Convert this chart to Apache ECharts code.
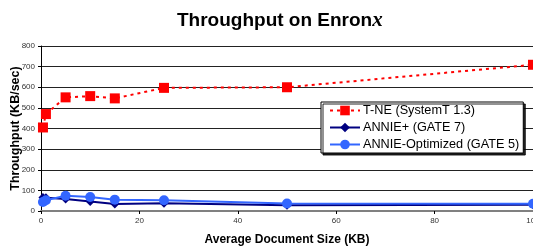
<!DOCTYPE html>
<html><head><meta charset="utf-8">
<script src="https://cdn.jsdelivr.net/npm/echarts@6/dist/echarts.min.js"></script>
<style>html,body{margin:0;padding:0;background:#fff}#c{width:533px;height:246px}</style>
</head><body><div id="c"></div>
<script>
const docSizes = [0.4, 1, 5, 10, 15, 25, 50, 100];
const tne = [405, 470, 551, 557, 546, 597, 600, 709];
const anniePlus = [66, 64, 58, 46, 34, 38, 28, 30];
const annieOpt = [44, 52, 74, 68, 55, 52, 36, 35];
const seriesNames = ['T-NE (SystemT 1.3)', 'ANNIE+ (GATE 7)', 'ANNIE-Optimized (GATE 5)'];
const xTicks = [0, 20, 40, 60, 80, 100];

const pairs = arr => docSizes.map((x, i) => [x, arr[i]]);
const chart = echarts.init(document.getElementById('c'));
chart.setOption({
  animation: false,
  title: {
    text: '{a|Throughput on Enron}{b|x}',
    left: 172, top: 5,
    textStyle: { rich: {
      a: { fontFamily: 'Liberation Sans, Arial', fontWeight: 'bold', fontSize: 19, color: '#000' },
      b: { fontFamily: 'Liberation Serif, Times New Roman', fontStyle: 'italic', fontWeight: 'bold', fontSize: 21, color: '#000' }
    }}
  },
  grid: { left: 41, right: 0, top: 46, bottom: 35, outerBoundsMode: 'none', containLabel: false },
  legend: {
    orient: 'vertical', left: 321, top: 102,
    backgroundColor: '#fff', borderColor: '#000', borderWidth: 1,
    shadowColor: 'rgba(0,0,0,0.85)', shadowOffsetX: 2, shadowOffsetY: 2, shadowBlur: 0,
    padding: [2, 4, 2, 8], itemGap: 4, itemWidth: 30, itemHeight: 12,
    textStyle: { fontFamily: 'Liberation Sans, Arial', fontSize: 12.7, color: '#000', padding: [0, 0, 0, -2] },
    data: seriesNames
  },
  xAxis: {
    type: 'value', min: 0, max: 100, interval: 20,
    name: 'Average Document Size (KB)', nameLocation: 'middle', nameGap: 23, nameMoveOverlap: false,
    nameTextStyle: { fontFamily: 'Liberation Sans, Arial', fontWeight: 'bold', fontSize: 12, color: '#000' },
    axisLine: { lineStyle: { color: '#808080', width: 2 } },
    axisTick: { show: true, length: 3, lineStyle: { color: '#000' } },
    axisLabel: { fontFamily: 'Liberation Sans, Arial', fontSize: 8, color: '#333', margin: 6,
      customValues: xTicks },
    splitLine: { show: false }
  },
  yAxis: {
    type: 'value', min: 0, max: 800, interval: 100,
    name: 'Throughput (KB/sec)', nameLocation: 'middle', nameGap: 19, nameMoveOverlap: false,
    nameTextStyle: { fontFamily: 'Liberation Sans, Arial', fontWeight: 'bold', fontSize: 12.5, color: '#000' },
    axisLine: { show: true, lineStyle: { color: '#000', width: 1 } },
    axisTick: { show: true, length: 3, lineStyle: { color: '#000' } },
    axisLabel: { fontFamily: 'Liberation Sans, Arial', fontSize: 8, color: '#333', margin: 6 },
    splitLine: { show: true, lineStyle: { color: '#222', width: 1 } }
  },
  series: [
    { name: seriesNames[2], type: 'line', data: pairs(annieOpt), z: 3,
      symbol: 'circle', symbolSize: 10,
      lineStyle: { color: '#3366ff', width: 2 }, itemStyle: { color: '#3366ff' } },
    { name: seriesNames[1], type: 'line', data: pairs(anniePlus), z: 2,
      symbol: 'diamond', symbolSize: 9,
      lineStyle: { color: '#000080', width: 2 }, itemStyle: { color: '#000080' } },
    { name: seriesNames[0], type: 'line', data: pairs(tne), z: 4,
      symbol: 'rect', symbolSize: 10,
      lineStyle: { color: '#ff0000', width: 2, type: [3, 4] }, itemStyle: { color: '#ff0000' } }
  ]
});
</script></body></html>
